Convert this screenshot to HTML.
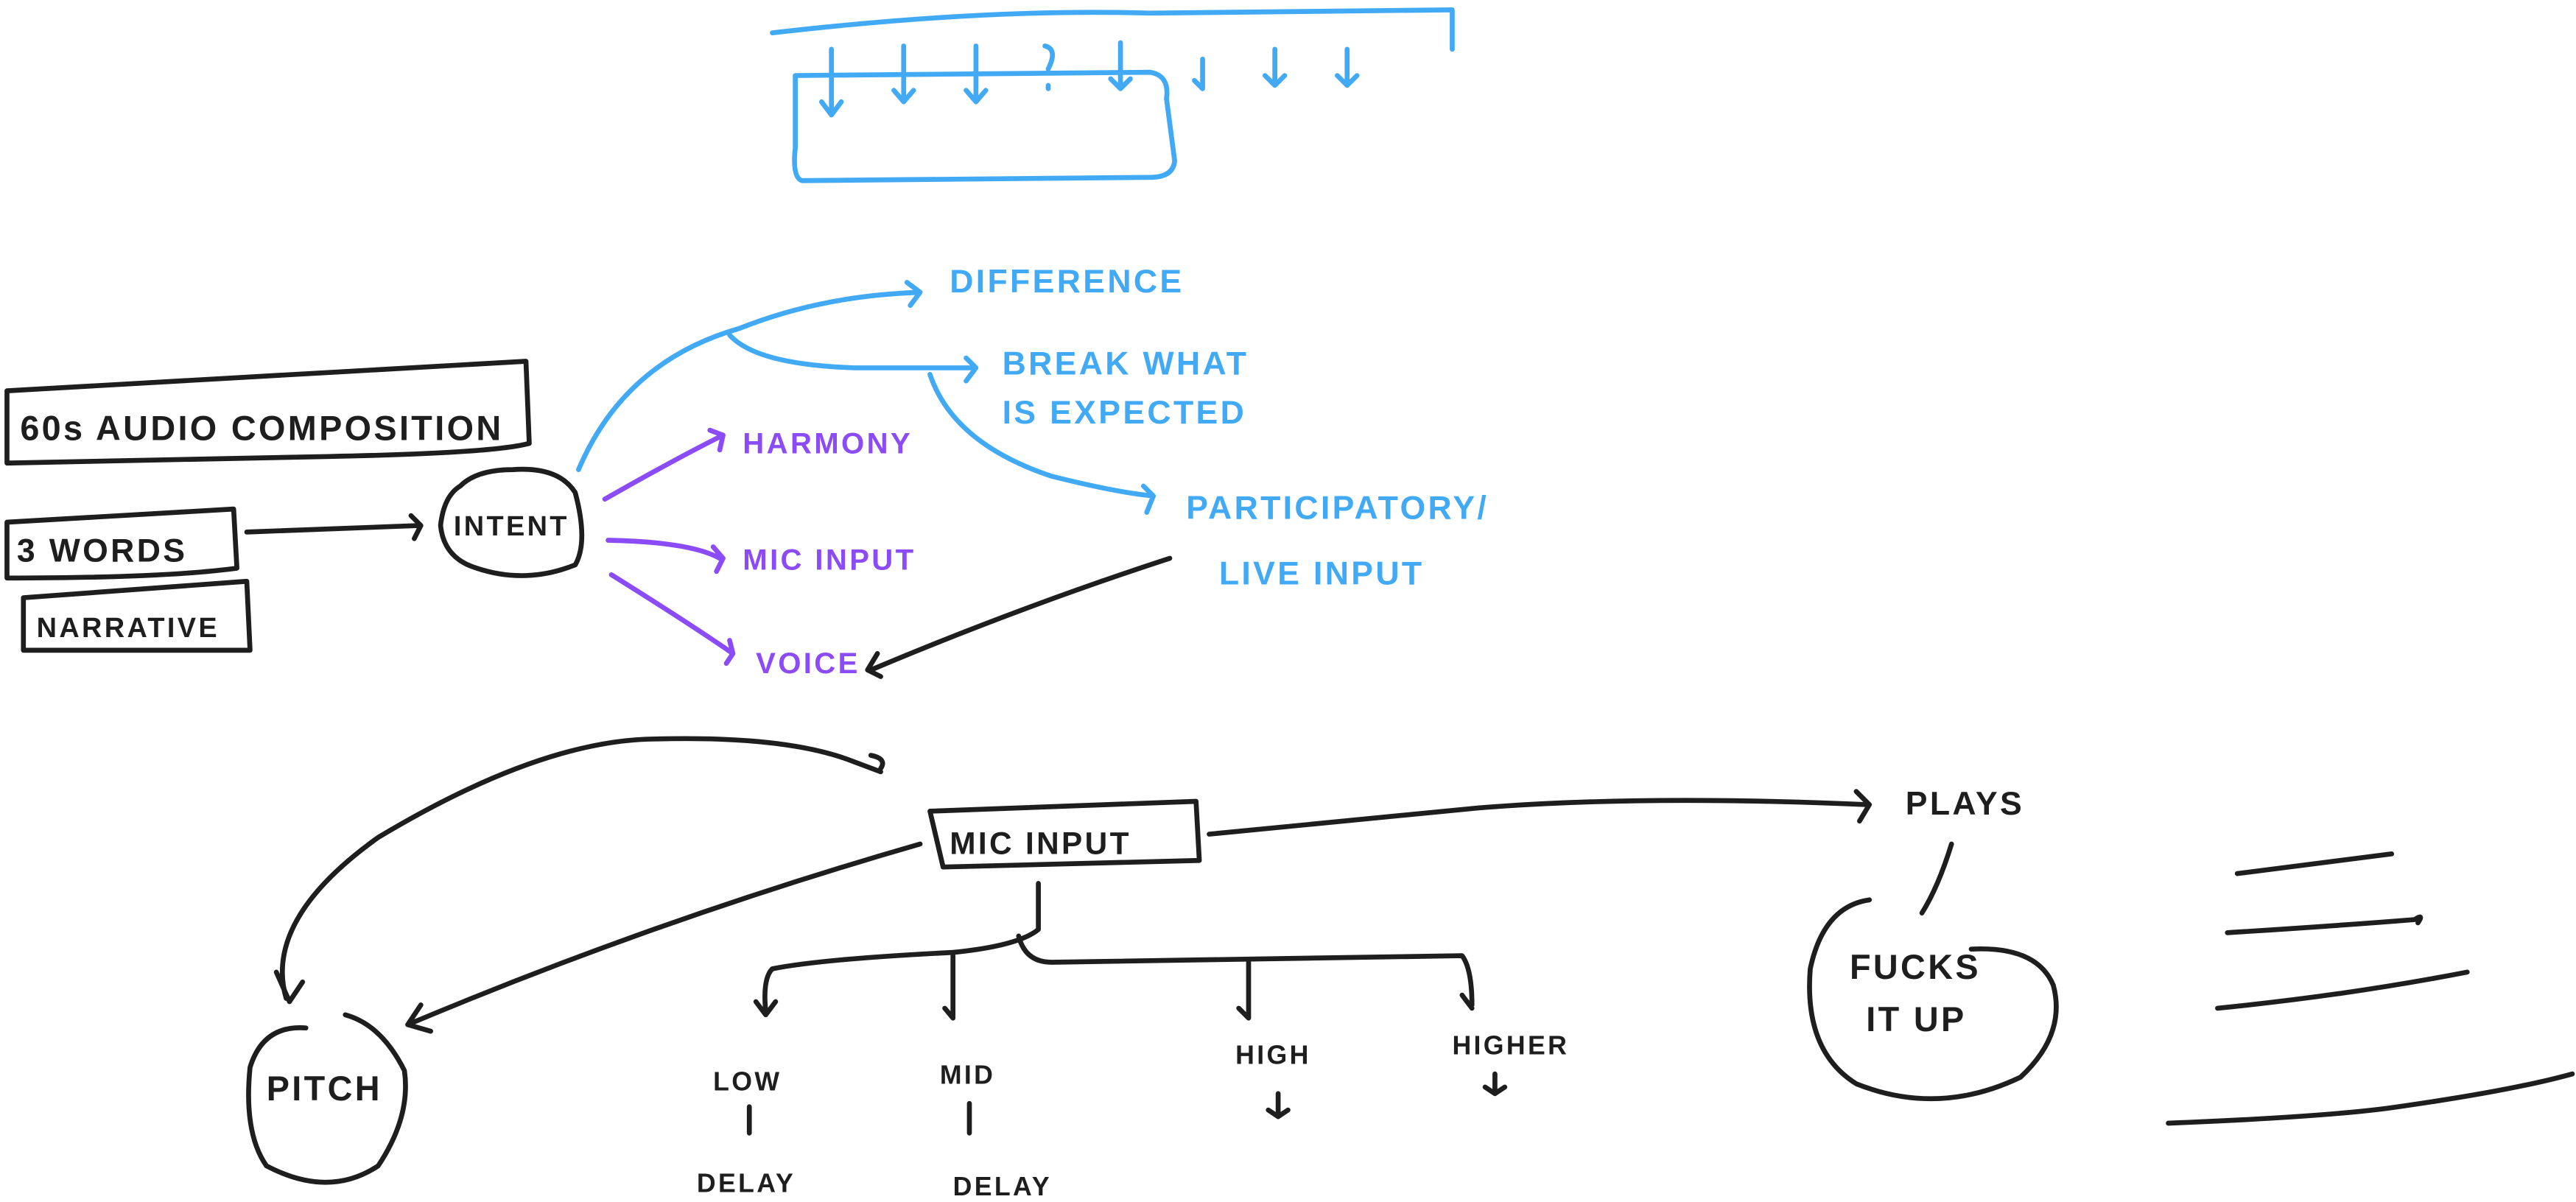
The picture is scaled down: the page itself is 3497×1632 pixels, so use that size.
<!DOCTYPE html>
<html><head><meta charset="utf-8"><style>
html,body{margin:0;padding:0;background:#fff;width:3497px;height:1632px;overflow:hidden}
svg{display:block}
text{font-family:"Liberation Sans",sans-serif;font-weight:bold;letter-spacing:1.5px}
</style></head><body>
<svg width="3497" height="1632" viewBox="0 0 1568 732" xmlns="http://www.w3.org/2000/svg">
<g fill="none" stroke-linecap="round" stroke-linejoin="round">
<g stroke="#42aaf5" stroke-width="3">
<path d="M470 20 Q600 5 700 8 L884 6 L884 30"/>
<path d="M484 46 L700 44 Q712 46 710 60 L715 98 Q714 108 700 108 L488 110 Q482 108 484 90 Z"/>
<path d="M506 30 V70 M500 62 L506 70 L512 62"/>
<path d="M550 28 V62 M544 55 L550 62 L556 55"/>
<path d="M594 28 V62 M588 55 L594 62 L600 55"/>
<path d="M636 28 Q644 30 638 42 M638 52 V54"/>
<path d="M682 26 V54 M676 48 L682 54 L688 48"/>
<path d="M732 36 V54 M727 49 L732 54"/>
<path d="M776 30 V52 M770 46 L776 52 L782 46"/>
<path d="M820 30 V52 M814 46 L820 52 L826 46"/>
<path d="M352 286 Q380 220 450 200 Q500 180 560 178 M552 172 L560 178 L554 186"/>
<path d="M444 204 Q460 222 520 224 L594 224 M588 218 L594 224 L588 232"/>
<path d="M566 228 Q580 270 640 290 Q680 300 702 302 M696 296 L702 302 L698 312"/>
</g>
<g stroke="#8b4cf7" stroke-width="3">
<path d="M368 304 Q410 280 440 265 M432 262 L440 265 L438 274"/>
<path d="M370 329 Q420 330 438 340 M434 333 L440 340 L436 348"/>
<path d="M372 350 Q420 380 446 398 M444 390 L446 398 L442 404"/>
</g>
<g stroke="#1e1e1e" stroke-width="3">
<path d="M4 238 L320 220 L322 270 Q300 276 200 278 L4 282 Z"/>
<path d="M4 318 L142 310 L144 346 Q100 352 4 352 Z"/>
<path d="M14 364 L150 354 L152 396 L14 396 Z"/>
<path d="M150 324 L256 320 M250 314 L256 320 L252 328"/>
<path d="M280 296 Q290 286 312 286 Q340 284 350 300 Q358 330 350 344 Q320 356 290 346 Q270 340 268 320 Q270 302 280 296"/>
<path d="M712 340 Q620 370 530 408 M534 398 L528 408 L536 412"/>
<path d="M566 494 L728 488 L730 524 L574 528 Z"/>
<path d="M736 508 Q820 500 900 492 Q1000 484 1136 490 M1130 482 L1138 490 L1132 500"/>
<path d="M174 608 Q160 560 230 510 Q330 450 400 450 Q480 448 520 464 M536 468 Q540 462 530 460 M520 464 L536 470"/>
<path d="M168 592 L176 610 L184 598"/>
<path d="M560 514 Q400 560 248 624 M256 612 L248 624 L262 628"/>
<path d="M632 538 V566 Q620 576 580 580 Q500 584 470 590 Q464 596 466 616 M460 610 L466 618 L472 610"/>
<path d="M580 582 V620 M575 614 L580 620"/>
<path d="M620 570 Q624 586 640 586 L890 582 Q896 590 896 612 M890 606 L896 614"/>
<path d="M760 586 V620 M754 614 L760 620"/>
<path d="M186 626 Q160 624 152 650 Q148 690 162 710 Q200 730 230 710 Q250 680 246 652 Q232 624 210 618"/>
<path d="M1188 514 Q1180 540 1170 556"/>
<path d="M1138 548 Q1110 552 1102 590 Q1098 640 1130 660 Q1180 680 1230 656 Q1258 630 1250 600 Q1240 576 1200 578"/>
<path d="M1362 532 L1456 520 M1356 568 Q1420 564 1470 560 Q1476 556 1472 562 M1350 614 Q1430 606 1502 592 M1320 684 Q1420 680 1460 674 Q1530 664 1566 654"/>
<path d="M456 674 V690 M590 672 V690 M778 666 V680 M772 676 L778 680 L784 676 M910 654 V666 M904 662 L910 666 L916 662"/>
</g>
</g>
<g font-size="20" fill="#42aaf5">
<text x="578" y="178">DIFFERENCE</text>
<text x="610" y="228">BREAK WHAT</text>
<text x="610" y="258">IS EXPECTED</text>
<text x="722" y="316">PARTICIPATORY/</text>
<text x="742" y="356">LIVE INPUT</text>
</g>
<g font-size="18" fill="#8b4cf7">
<text x="452" y="276">HARMONY</text>
<text x="452" y="347">MIC INPUT</text>
<text x="460" y="410">VOICE</text>
</g>
<g fill="#1e1e1e">
<text x="12" y="268" font-size="21">60s AUDIO COMPOSITION</text>
<text x="10" y="342" font-size="20">3 WORDS</text>
<text x="22" y="388" font-size="17">NARRATIVE</text>
<text x="276" y="326" font-size="17">INTENT</text>
<text x="578" y="520" font-size="19">MIC INPUT</text>
<text x="1160" y="496" font-size="20">PLAYS</text>
<text x="1126" y="596" font-size="21">FUCKS</text>
<text x="1136" y="628" font-size="21">IT UP</text>
<text x="162" y="670" font-size="21">PITCH</text>
<text x="434" y="664" font-size="16">LOW</text>
<text x="572" y="660" font-size="16">MID</text>
<text x="752" y="648" font-size="16">HIGH</text>
<text x="884" y="642" font-size="16">HIGHER</text>
<text x="424" y="726" font-size="16">DELAY</text>
<text x="580" y="728" font-size="16">DELAY</text>
</g>
</svg>
</body></html>
